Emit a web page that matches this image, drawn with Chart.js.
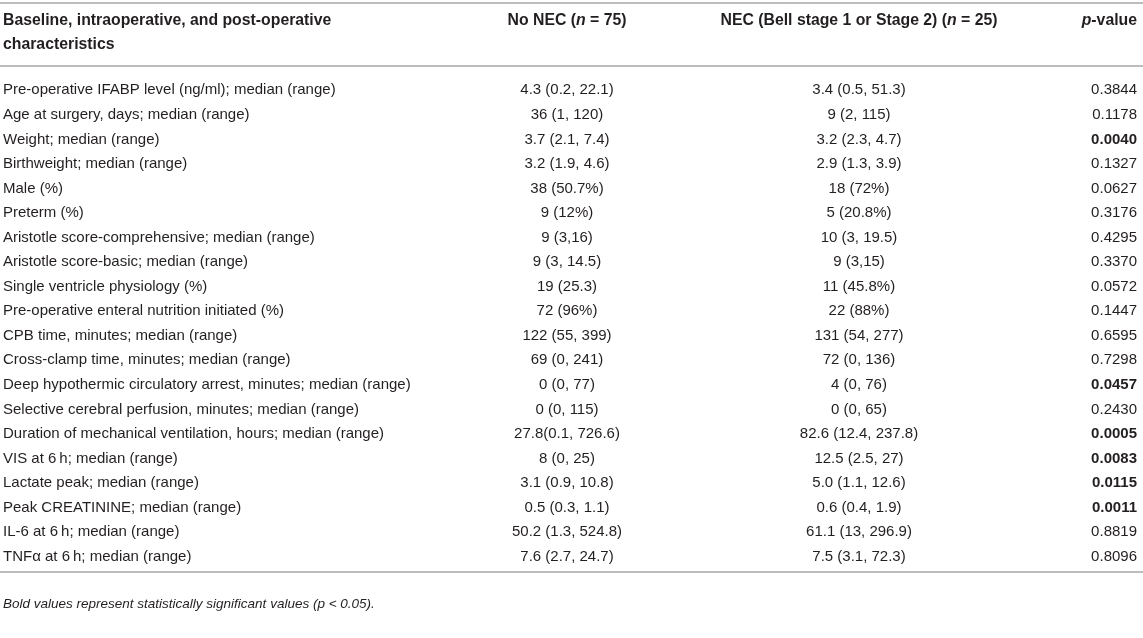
<!DOCTYPE html>
<html>
<head>
<meta charset="utf-8">
<script src="https://cdn.jsdelivr.net/npm/chart.js@4/dist/chart.umd.min.js"></script>
<style>
  body { margin: 0; background: #fff; }
</style>
</head>
<body>
<canvas id="tablaChart" width="1143" height="638"></canvas>
<script>
// Datos de la tabla
const encabezados = ['Baseline, intraoperative, and post-operative\ncharacteristics', 'No NEC (n = 75)', 'NEC (Bell stage 1 or Stage 2) (n = 25)', 'p-value'];

const caracteristicas = [
    'Pre-operative IFABP level (ng/ml); median (range)',
    'Age at surgery, days; median (range)',
    'Weight; median (range)',
    'Birthweight; median (range)',
    'Male (%)',
    'Preterm (%)',
    'Aristotle score-comprehensive; median (range)',
    'Aristotle score-basic; median (range)',
    'Single ventricle physiology (%)',
    'Pre-operative enteral nutrition initiated (%)',
    'CPB time, minutes; median (range)',
    'Cross-clamp time, minutes; median (range)',
    'Deep hypothermic circulatory arrest, minutes; median (range)',
    'Selective cerebral perfusion, minutes; median (range)',
    'Duration of mechanical ventilation, hours; median (range)',
    'VIS at 6\u2009h; median (range)',
    'Lactate peak; median (range)',
    'Peak CREATININE; median (range)',
    'IL-6 at 6\u2009h; median (range)',
    'TNF\u03b1 at 6\u2009h; median (range)'
];

const sinNec = [
    '4.3 (0.2, 22.1)', '36 (1, 120)', '3.7 (2.1, 7.4)', '3.2 (1.9, 4.6)', '38 (50.7%)',
    '9 (12%)', '9 (3,16)', '9 (3, 14.5)', '19 (25.3)', '72 (96%)',
    '122 (55, 399)', '69 (0, 241)', '0 (0, 77)', '0 (0, 115)', '27.8(0.1, 726.6)',
    '8 (0, 25)', '3.1 (0.9, 10.8)', '0.5 (0.3, 1.1)', '50.2 (1.3, 524.8)', '7.6 (2.7, 24.7)'
];

const conNec = [
    '3.4 (0.5, 51.3)', '9 (2, 115)', '3.2 (2.3, 4.7)', '2.9 (1.3, 3.9)', '18 (72%)',
    '5 (20.8%)', '10 (3, 19.5)', '9 (3,15)', '11 (45.8%)', '22 (88%)',
    '131 (54, 277)', '72 (0, 136)', '4 (0, 76)', '0 (0, 65)', '82.6 (12.4, 237.8)',
    '12.5 (2.5, 27)', '5.0 (1.1, 12.6)', '0.6 (0.4, 1.9)', '61.1 (13, 296.9)', '7.5 (3.1, 72.3)'
];

const valoresP = [
    '0.3844', '0.1178', '0.0040', '0.1327', '0.0627',
    '0.3176', '0.4295', '0.3370', '0.0572', '0.1447',
    '0.6595', '0.7298', '0.0457', '0.2430', '0.0005',
    '0.0083', '0.0115', '0.0011', '0.8819', '0.8096'
];

const nota = 'Bold values represent statistically significant values (p < 0.05).';

// Estilos
const fuente = '"Liberation Sans", Arial, sans-serif';
const tam = 15;
const tamCabecera = 15.8;
const colorTexto = '#231f20';
const colorLinea = '#bdbdbd';
const columnas = { etiqueta: 3, sinNec: 567, conNec: 859, p: 1137 };

// Dibuja un texto con partes en cursiva (n, p)
function textoMixto(ctx, partes, x, y, align, peso, size) {
    let total = 0;
    partes.forEach(p => {
        ctx.font = (p.it ? 'italic ' : '') + peso + ' ' + size + 'px ' + fuente;
        total += ctx.measureText(p.t).width;
    });
    let inicio = align === 'center' ? x - total / 2 : (align === 'right' ? x - total : x);
    ctx.textAlign = 'left';
    partes.forEach(p => {
        ctx.font = (p.it ? 'italic ' : '') + peso + ' ' + size + 'px ' + fuente;
        ctx.fillText(p.t, inicio, y);
        inicio += ctx.measureText(p.t).width;
    });
}

const pluginTabla = {
    id: 'tabla',
    afterDraw(chart) {
        const ctx = chart.ctx;
        const y = chart.scales.y;
        ctx.save();
        ctx.fillStyle = colorTexto;
        ctx.textBaseline = 'middle';

        // Reglas horizontales
        ctx.strokeStyle = colorLinea;
        ctx.lineWidth = 2;
        [3, 66, 572].forEach(py => {
            ctx.beginPath();
            ctx.moveTo(0, py);
            ctx.lineTo(chart.width, py);
            ctx.stroke();
        });

        // Encabezado
        ctx.font = 'bold ' + tamCabecera + 'px ' + fuente;
        ctx.textAlign = 'left';
        encabezados[0].split('\n').forEach((linea, i) => {
            ctx.fillText(linea, columnas.etiqueta, 21 + i * 24);
        });
        textoMixto(ctx, [{ t: 'No NEC (' }, { t: 'n', it: true }, { t: ' = 75)' }], columnas.sinNec, 21, 'center', 'bold', tamCabecera);
        textoMixto(ctx, [{ t: 'NEC (Bell stage 1 or Stage 2) (' }, { t: 'n', it: true }, { t: ' = 25)' }], columnas.conNec, 21, 'center', 'bold', tamCabecera);
        textoMixto(ctx, [{ t: 'p', it: true }, { t: '-value' }], columnas.p, 21, 'right', 'bold', tamCabecera);

        // Filas
        caracteristicas.forEach((nombre, i) => {
            const py = y.getPixelForValue(i);
            ctx.font = tam + 'px ' + fuente;
            ctx.textAlign = 'left';
            ctx.fillText(nombre, columnas.etiqueta, py);
            ctx.textAlign = 'center';
            ctx.fillText(sinNec[i], columnas.sinNec, py);
            ctx.fillText(conNec[i], columnas.conNec, py);
            const significativo = parseFloat(valoresP[i]) < 0.05;
            ctx.font = (significativo ? 'bold ' : '') + tam + 'px ' + fuente;
            ctx.textAlign = 'right';
            ctx.fillText(valoresP[i], columnas.p, py);
        });

        // Nota al pie
        ctx.font = 'italic 13.5px ' + fuente;
        ctx.textAlign = 'left';
        ctx.fillText(nota, columnas.etiqueta, 604);
        ctx.restore();
    }
};

const ctx = document.getElementById('tablaChart').getContext('2d');
const tablaChart = new Chart(ctx, {
    type: 'scatter',
    data: {
        datasets: [{ data: [], pointRadius: 0 }]
    },
    options: {
        responsive: false,
        animation: false,
        devicePixelRatio: 1,
        layout: { padding: { top: 78, bottom: 69, left: 0, right: 0 } },
        plugins: { legend: { display: false }, tooltip: { enabled: false } },
        scales: {
            x: { type: 'linear', min: 0, max: 1, display: false },
            y: { type: 'category', labels: caracteristicas, offset: true, display: false }
        }
    },
    plugins: [pluginTabla]
});
</script>
</body>
</html>
